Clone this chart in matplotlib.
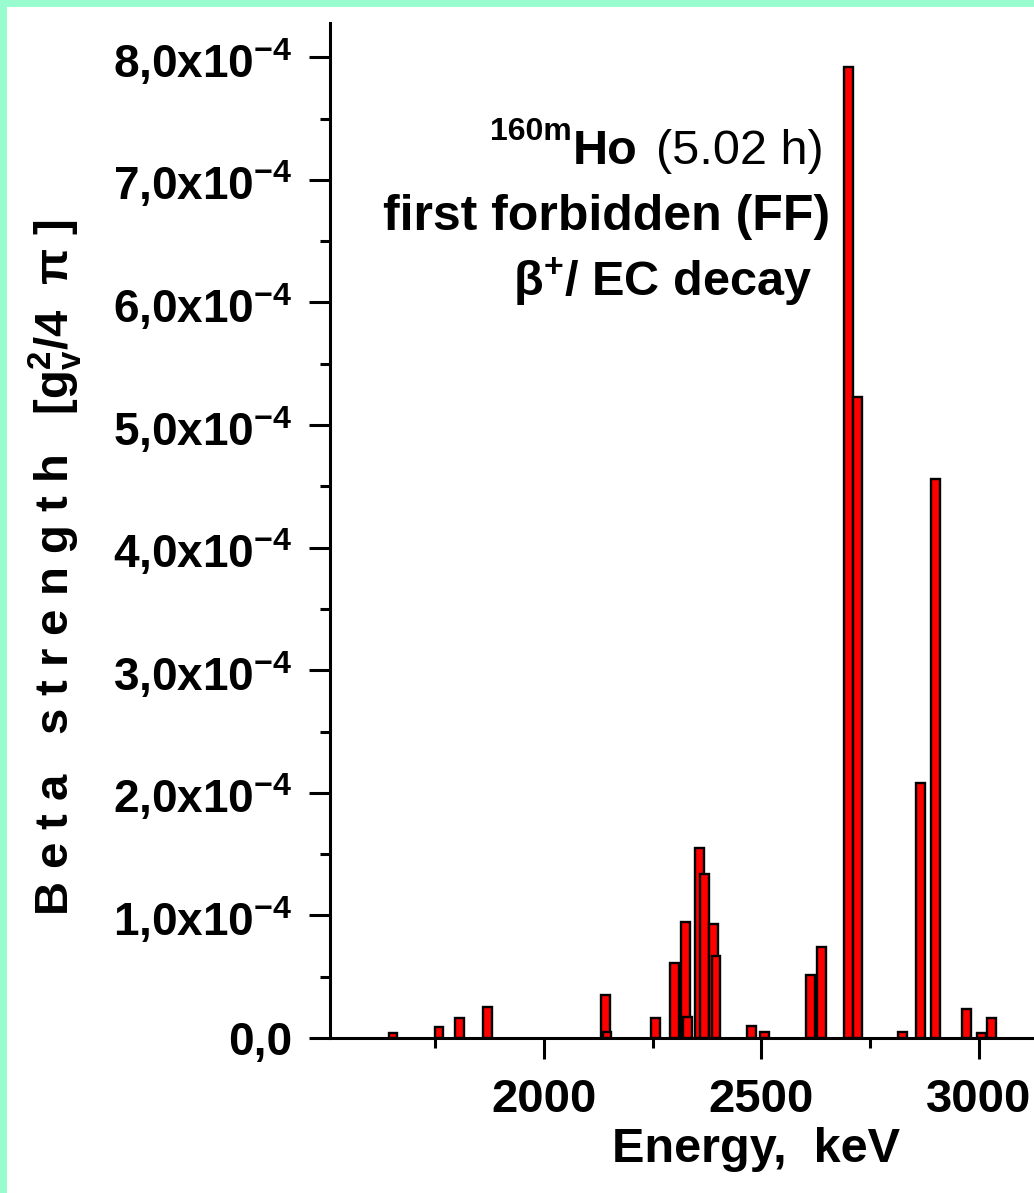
import matplotlib
matplotlib.use("Agg")
import matplotlib.pyplot as plt
from matplotlib.patches import Rectangle
from matplotlib.ticker import MultipleLocator, FuncFormatter

plt.rcParams["font.family"] = ["Liberation Sans", "DejaVu Sans"]
plt.rcParams["font.weight"] = "bold"
plt.rcParams["mathtext.fontset"] = "custom"
plt.rcParams["mathtext.rm"] = "Liberation Sans:bold"
plt.rcParams["mathtext.it"] = "Liberation Sans:bold"
plt.rcParams["mathtext.bf"] = "Liberation Sans:bold"

W, H = 1034, 1193

# level energies (keV) and beta strengths (units of 1e-4 gv^2/4pi)
energy = [1653, 1759, 1806, 1871, 2141, 2145, 2257, 2300, 2325, 2330,
          2357, 2369, 2390, 2396, 2478, 2507, 2613, 2638, 2701, 2721,
          2825, 2866, 2900, 2972, 3007, 3030]
strength = [0.04, 0.09, 0.16, 0.25, 0.35, 0.05, 0.16, 0.61, 0.95, 0.17,
            1.55, 1.34, 0.93, 0.67, 0.10, 0.05, 0.51, 0.74, 7.92, 5.23,
            0.05, 2.08, 4.56, 0.24, 0.04, 0.16]
y_ticks = [0, 1, 2, 3, 4, 5, 6, 7, 8]
x_ticks = [2000, 2500, 3000]


def px(x, y):
    return x / W, 1 - y / H


fig = plt.figure(figsize=(W / 100, H / 100), dpi=100)
fig.patch.set_facecolor("#99fccf")
fig.patches.append(Rectangle((7 / W, 0), 1, 1 - 7 / H, transform=fig.transFigure,
                             facecolor="white", edgecolor="none", zorder=-10))

left, bottom = px(330, 1038)
ax = fig.add_axes([left, bottom, 1 - left, (1038 - 23) / H])
ax.set_facecolor("none")

ax.bar(energy, strength, width=20, color="#ff0000", edgecolor="black",
       linewidth=1.7, zorder=3)

ax.set_xlim(1508, 3127)
ax.set_ylim(0, 8.28)

ax.spines["top"].set_visible(False)
ax.spines["right"].set_visible(False)
ax.spines["left"].set_linewidth(2.2)
ax.spines["bottom"].set_linewidth(2.2)

ax.set_xticks(x_ticks)
ax.xaxis.set_minor_locator(MultipleLocator(250))
ax.set_yticks(y_ticks)
ax.yaxis.set_minor_locator(MultipleLocator(0.5))


def fmt_y(v, pos):
    if abs(v) < 1e-9:
        return "0,0"
    return f"{v:.1f}".replace(".", ",") + "x10$^{-4}$"


ax.yaxis.set_major_formatter(FuncFormatter(fmt_y))
ax.tick_params(which="major", direction="out", length=15, width=2.2,
               labelsize=33, pad=12)
ax.tick_params(which="minor", direction="out", length=7, width=2.2)
ax.tick_params(axis="x", which="major", pad=14, labelsize=34)

fig.text(*px(756, 1150), "Energy,  keV", fontsize=35, fontweight="bold",
         ha="center", va="center")
fig.text(*px(55, 568), "B e t a   s t r e n g t h   [g$_{\\mathrm{v}}^{2}$/4  π ]",
         fontsize=34, fontweight="bold", rotation=90, ha="center", va="center")

# annotation
fig.text(*px(490, 140), "160m", fontsize=23, fontweight="bold",
         ha="left", va="baseline")
fig.text(*px(573, 164), "Ho", fontsize=35, fontweight="bold",
         ha="left", va="baseline")
fig.text(*px(824, 164), "(5.02 h)", fontsize=35, fontweight="normal",
         ha="right", va="baseline")
fig.text(*px(830, 230), "first forbidden (FF)", fontsize=36, fontweight="bold",
         ha="right", va="baseline")
fig.text(*px(812, 296), "β$^{+}$/ EC decay", fontsize=35, fontweight="bold",
         ha="right", va="baseline")

fig.savefig("out.png", dpi=100)
